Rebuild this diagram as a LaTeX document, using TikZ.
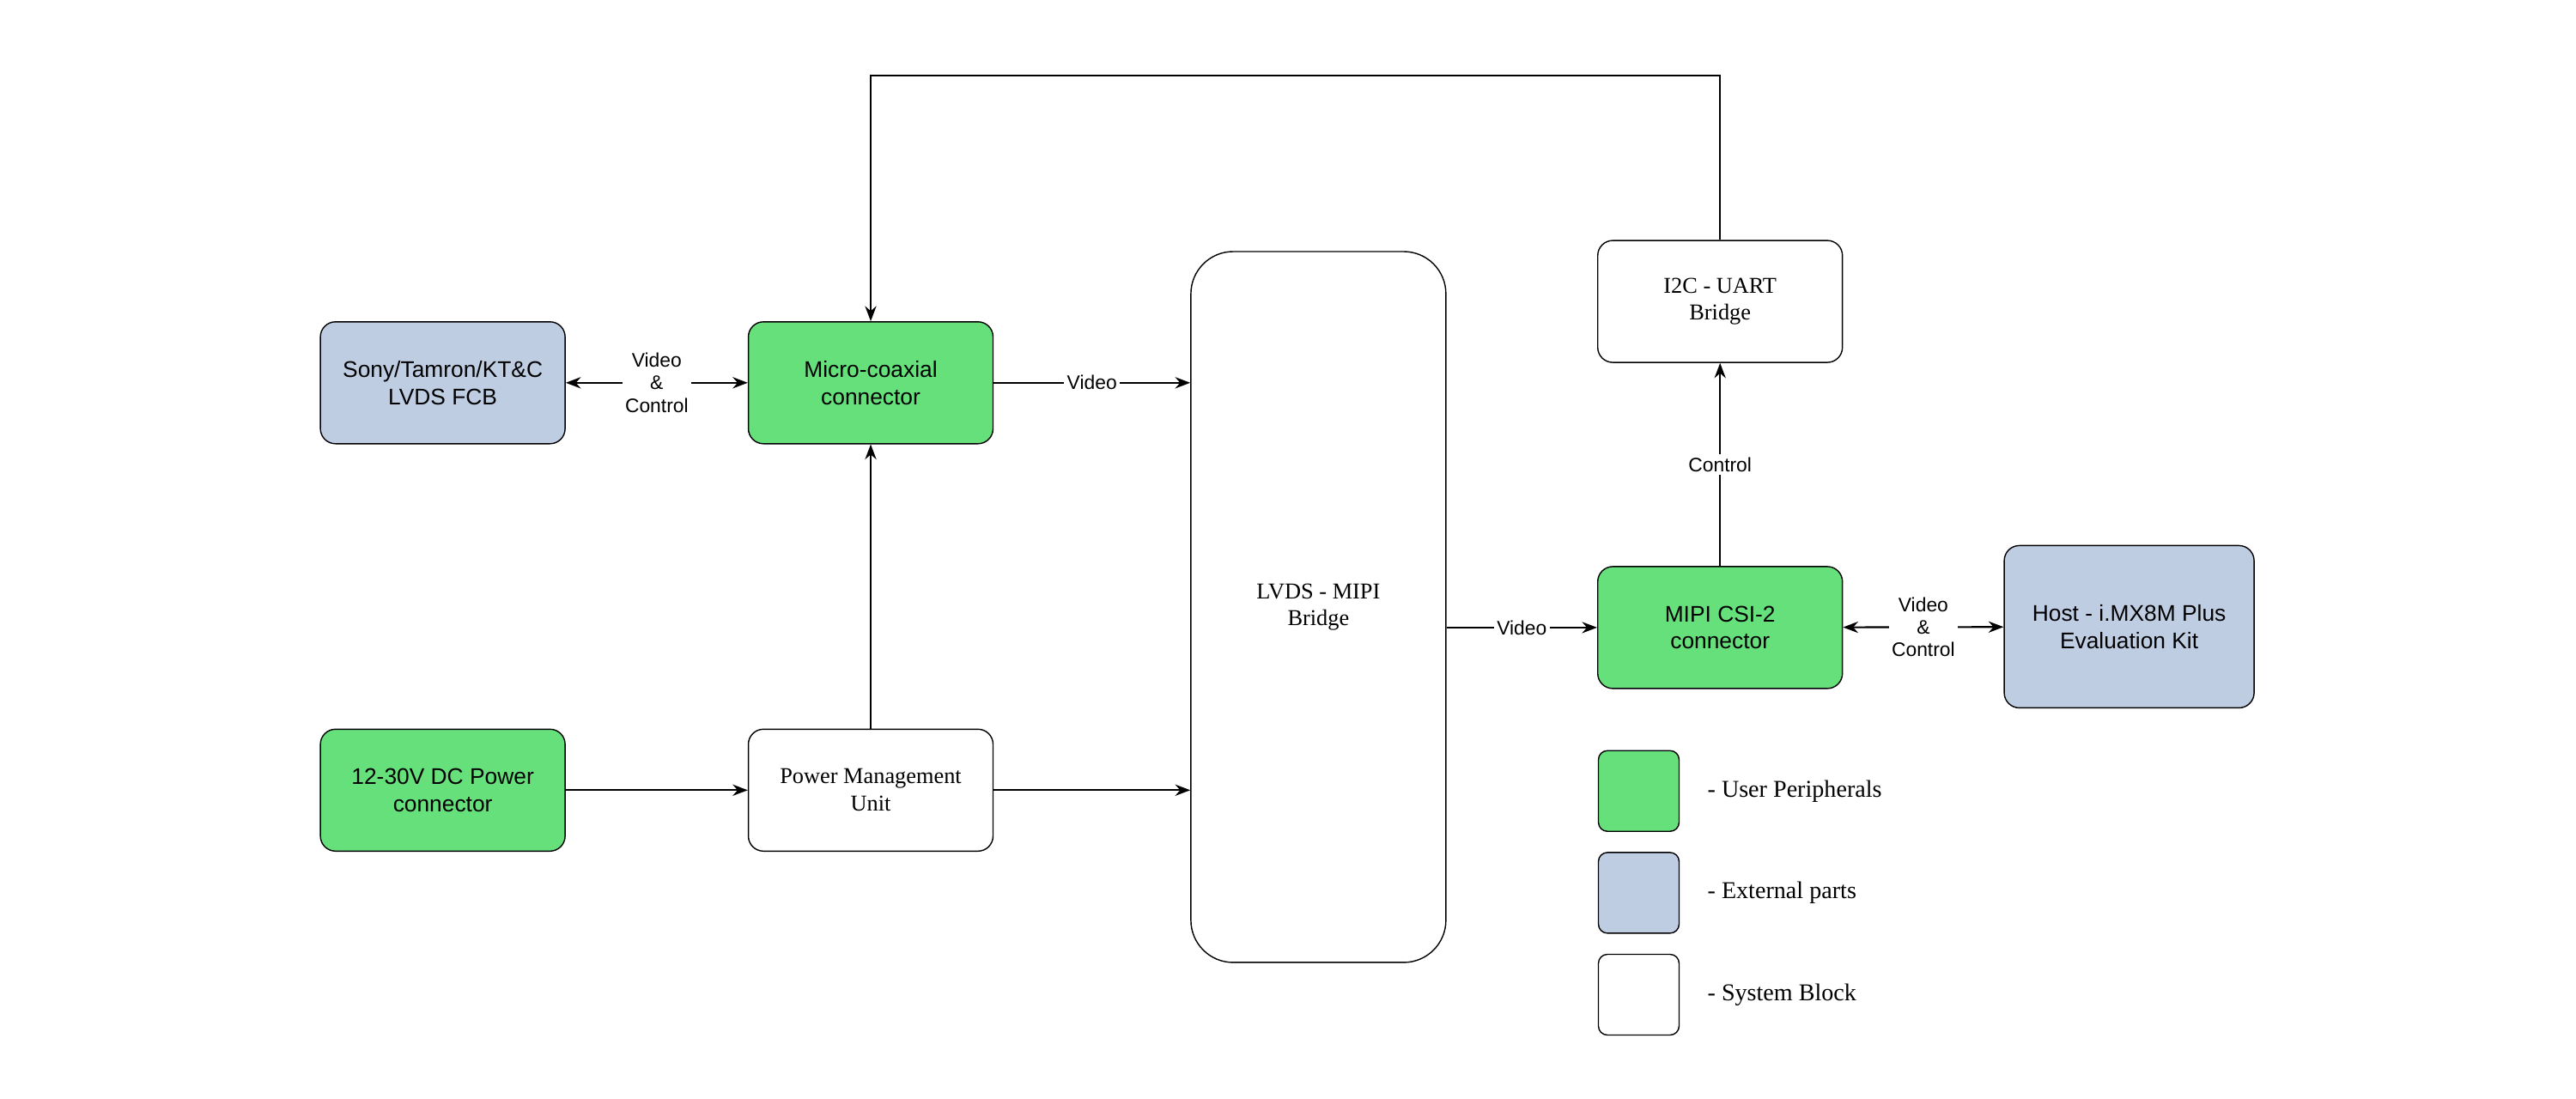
\documentclass[tikz,border=0pt]{standalone}
\usepackage{fontspec}
\setsansfont{Liberation Sans}
\setmainfont{Liberation Serif}
\usetikzlibrary{positioning,arrows.meta}

\begin{document}
\begin{tikzpicture}[x=0.01913cm, y=-0.01913cm,
  box/.style={draw, rounded corners=5pt, minimum width=2.85cm, minimum height=1.42cm, align=center, font=\sffamily\fontsize{7.5}{9}\selectfont},
  sysbox/.style={box, fill=white, font=\rmfamily\fontsize{7.5}{9}\selectfont},
  userbox/.style={box, fill=green!60!cyan!30!white, fill={rgb,255:red,102;green,224;blue,122}},
  extbox/.style={box, fill={rgb,255:red,191;green,205;blue,227}},
  legbox/.style={draw, rounded corners=3pt, minimum size=0.94cm},
  lbl/.style={fill=white, inner sep=1pt, align=center, font=\sffamily\fontsize{6.5}{7.5}\selectfont},
  arr/.style={-{Stealth[length=5pt]}, semithick},
  barr/.style={{Stealth[length=5pt]}-{Stealth[length=5pt]}, semithick}]
\useasboundingbox (0,0) rectangle (1568,669);

\node[extbox] (fcb) at (269.5,233) {Sony/Tamron/KT\&C\\LVDS FCB};
\node[userbox] (coax) at (530,233) {Micro-coaxial\\connector};
\node[sysbox, minimum width=2.97cm, minimum height=8.28cm, rounded corners=14pt] (bridge) at (802.5,369.5) {LVDS - MIPI\\Bridge};
\node[sysbox] (i2c) at (1047,183.5) {I2C - UART\\Bridge};
\node[userbox] (csi) at (1047,382) {MIPI CSI-2\\connector};
\node[extbox, minimum width=2.91cm, minimum height=1.89cm] (host) at (1296,381.5) {Host - i.MX8M Plus\\Evaluation Kit};
\node[userbox] (dc) at (269.5,481) {12-30V DC Power\\connector};
\node[sysbox] (pmu) at (530,481) {Power Management\\Unit};

% legend
\node[legbox, fill={rgb,255:red,102;green,224;blue,122}] (lg1) at (997.5,481.5) {};
\node[legbox, fill={rgb,255:red,191;green,205;blue,227}] (lg2) at (997.5,543.5) {};
\node[legbox, fill=white] (lg3) at (997.5,605.5) {};
\node[right=0.2cm of lg1, font=\rmfamily\fontsize{8}{9}\selectfont] {- User Peripherals};
\node[right=0.2cm of lg2, font=\rmfamily\fontsize{8}{9}\selectfont] {- External parts};
\node[right=0.2cm of lg3, font=\rmfamily\fontsize{8}{9}\selectfont] {- System Block};

% connections
\draw[barr] (fcb) -- (coax) node[midway, lbl] {Video\\\&\\Control};
\draw[arr] (coax.east) -- (coax.east -| bridge.west) node[pos=0.5, lbl] {Video};
\draw[arr] (csi.west -| bridge.east) -- (csi.west) node[midway, lbl] {Video};
\draw[arr] (csi) -- (i2c) node[midway, lbl] {Control};
\draw[barr] (csi) -- (host) node[midway, lbl] {Video\\\&\\Control};
\draw[arr] (i2c.north) -- ++(0,-100) -| (coax.north);
\draw[arr] (pmu) -- (coax);
\draw[arr] (dc) -- (pmu);
\draw[arr] (pmu.east) -- (pmu.east -| bridge.west);

\end{tikzpicture}
\end{document}
